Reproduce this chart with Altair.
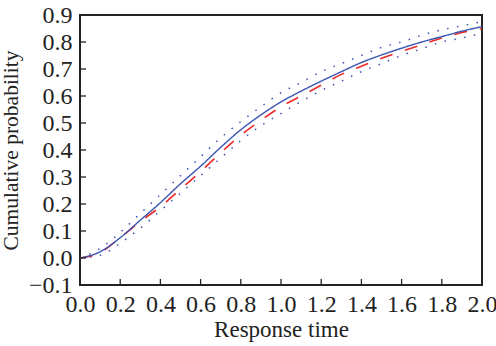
import altair as alt
import pandas as pd

x_vals = [0.0, 0.1, 0.2, 0.3, 0.4, 0.5, 0.6, 0.7, 0.8, 0.9, 1.0,
          1.1, 1.2, 1.3, 1.4, 1.5, 1.6, 1.7, 1.8, 1.9, 2.0]
model = [0.0, 0.023, 0.075, 0.14, 0.205, 0.275, 0.34, 0.41, 0.475, 0.53, 0.578,
         0.618, 0.655, 0.69, 0.724, 0.752, 0.777, 0.80, 0.82, 0.84, 0.857]
empirical = [0.0, 0.02, 0.075, 0.135, 0.19, 0.255, 0.32, 0.39, 0.455, 0.51, 0.56,
             0.60, 0.64, 0.68, 0.71, 0.74, 0.765, 0.79, 0.815, 0.835, 0.85]
upper = [0.0, 0.035, 0.095, 0.165, 0.235, 0.305, 0.375, 0.445, 0.505, 0.56, 0.612,
         0.65, 0.69, 0.72, 0.75, 0.78, 0.80, 0.825, 0.845, 0.86, 0.875]
lower = [0.0, 0.01, 0.055, 0.11, 0.175, 0.24, 0.305, 0.37, 0.435, 0.49, 0.535,
         0.58, 0.62, 0.655, 0.69, 0.72, 0.75, 0.775, 0.80, 0.815, 0.832]

x_ticks = [0.0, 0.2, 0.4, 0.6, 0.8, 1.0, 1.2, 1.4, 1.6, 1.8, 2.0]
y_ticks = [-0.1, 0.0, 0.1, 0.2, 0.3, 0.4, 0.5, 0.6, 0.7, 0.8, 0.9]

W, H = 402, 270
FONT = "Liberation Serif"

xs = alt.Scale(domain=[0, 2], nice=False)
ys = alt.Scale(domain=[-0.1, 0.9], nice=False)

x_axis = alt.Axis(values=x_ticks, format=".1f", title="Response time",
                  ticks=False, domain=False, grid=False,
                  labelOverlap=False, labelFlush=False, labelBound=False,
                  labelFont=FONT, labelFontSize=24, labelColor="#222",
                  labelPadding=7, titleFont=FONT, titleFontSize=23,
                  titleFontWeight="normal", titleColor="#222", titlePadding=2)
y_axis = alt.Axis(values=y_ticks, format=".1f", title="Cumulative probability",
                  ticks=False, domain=False, grid=False,
                  labelOverlap=False, labelFlush=False, labelBound=False,
                  labelFont=FONT, labelFontSize=24, labelColor="#222",
                  labelPadding=8, titleFont=FONT, titleFontSize=21.5,
                  titleFontWeight="normal", titleColor="#222", titlePadding=6)

def curve(vals, color, dash, width):
    df = pd.DataFrame({"t": x_vals, "p": vals})
    return alt.Chart(df).mark_line(color=color, strokeDash=dash, strokeWidth=width,
                                   interpolate="monotone", clip=True).encode(
        x=alt.X("t:Q", scale=xs, axis=x_axis),
        y=alt.Y("p:Q", scale=ys, axis=y_axis),
    )

upper_l = curve(upper, "#3a55b0", [1.5, 8.5], 1.5)
lower_l = curve(lower, "#3a55b0", [1.5, 8.5], 1.5)
emp_l = curve(empirical, "#ee2a2a", [13, 13], 1.6)
mod_l = curve(model, "#3a55b0", [1, 0], 1.4)

xt = alt.Chart(pd.DataFrame({"t": x_ticks})).mark_rule(color="#222", strokeWidth=1.3).encode(
    x=alt.X("t:Q", scale=xs, axis=x_axis), y=alt.value(H), y2=alt.value(H - 6))
yt = alt.Chart(pd.DataFrame({"p": y_ticks})).mark_rule(color="#222", strokeWidth=1.3).encode(
    y=alt.Y("p:Q", scale=ys, axis=y_axis), x=alt.value(0), x2=alt.value(6))

chart = alt.layer(upper_l, lower_l, emp_l, mod_l, xt, yt).properties(
    width=W, height=H,
    autosize=alt.AutoSizeParams(type="none"),
    padding={"left": 80, "top": 15, "right": 14, "bottom": 61},
).configure(background="white").configure_view(stroke="#222", strokeWidth=2)

chart.save("out.html", embed_options={"renderer": "svg", "actions": False})
